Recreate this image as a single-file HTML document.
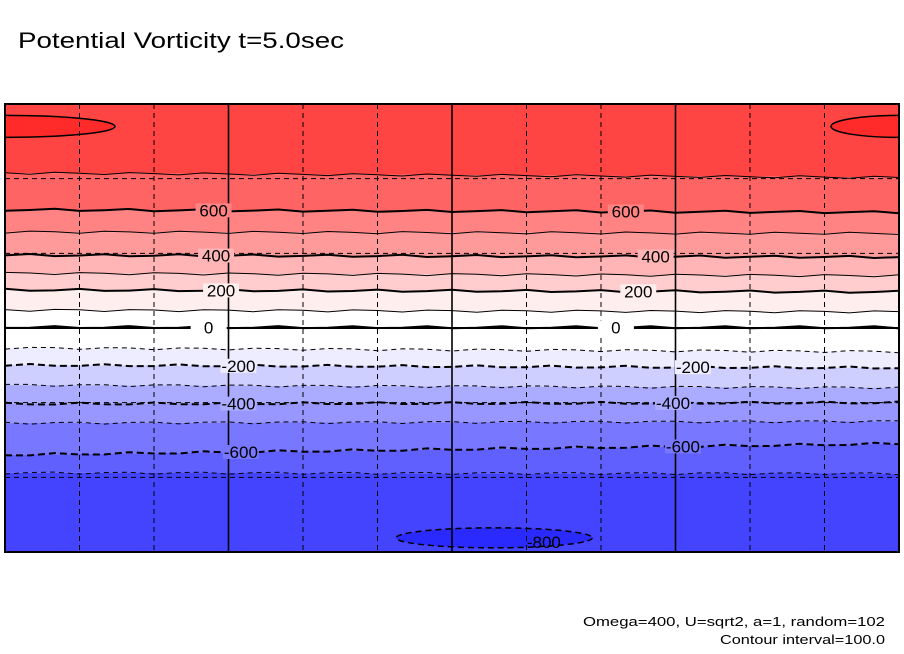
<!DOCTYPE html>
<html><head><meta charset="utf-8"><style>
html,body{margin:0;padding:0;background:#fff;width:904px;height:654px;overflow:hidden}
svg{display:block}
text{font-family:"Liberation Sans",sans-serif}
</style></head><body>
<svg id="chart" width="904" height="654">
<defs><clipPath id="clip"><rect x="5" y="104" width="894" height="448"/></clipPath></defs>
<text x="18" y="48" font-size="22" textLength="326" lengthAdjust="spacingAndGlyphs" fill="#000">Potential Vorticity t=5.0sec</text>
<g id="plot" clip-path="url(#clip)"></g>
<text x="583" y="626" font-size="13" textLength="302" lengthAdjust="spacingAndGlyphs" fill="#000">Omega=400, U=sqrt2, a=1, random=102</text>
<text x="720" y="644" font-size="13" textLength="165" lengthAdjust="spacingAndGlyphs" fill="#000">Contour interval=100.0</text>
</svg>
<script>
// contour levels and their latitudes (left edge, right edge)
const levels = [700, 600, 500, 400, 300, 200, 100, 0, -100, -200, -300, -400, -500, -600, -700];
const latLeft = [62.3, 47.5, 38.6, 29.3, 22.0, 15.3, 7.2, 0.3, -8.0, -14.9, -22.9, -30.5, -38.2, -51.0, -58.2];
const latRight = [60.5, 46.5, 38.0, 28.5, 21.0, 14.5, 6.5, 0.2, -9.5, -16.0, -24.0, -30.0, -37.5, -46.5, -58.5];
const bandColors = ['#ff4444','#ff6464','#ff8383','#ff9a9a','#ffb5b5','#ffcdcd','#ffeeee','#ffffff','#ffffff','#ededff','#cfcfff','#ababff','#9797ff','#7777ff','#6060ff','#4444ff'];
const lonTicks = [-180,-150,-120,-90,-60,-30,0,30,60,90,120,150,180];
const latTicks = [-60,-30,0,30,60];
const labelLevels = [600,400,200,0,-200,-400,-600];
const labelLonLeft = [-96,-95,-93,-98,-86,-86,-85];
const labelLonRight = [70,82,75,66,97,89,93];

const X0=5,X1=899,Y0=104,Y1=552;
const ns='http://www.w3.org/2000/svg';
const plot=document.getElementById('plot');
const svg=document.getElementById('chart');
function xs(lon){return X0+(lon+180)/360*(X1-X0);}
function ys(lat){return Y0+(90-lat)/180*(Y1-Y0);}
function latAt(i,lon){const t=(lon+180)/360;return latLeft[i]*(1-t)+latRight[i]*t;}
function mk(tag,attrs,parent){const e=document.createElementNS(ns,tag);for(const k in attrs)e.setAttribute(k,attrs[k]);(parent||plot).appendChild(e);return e;}

for(let b=0;b<bandColors.length;b++){
  let pts=[];
  if(b===0){pts.push([X0,ys(90)],[X1,ys(90)]);} else {for(let lon=-180;lon<=180;lon+=10)pts.push([xs(lon),ys(latAt(b-1,lon))]);}
  let bot=[];
  if(b===bandColors.length-1){bot.push([X1,ys(-90)],[X0,ys(-90)]);} else {for(let lon=180;lon>=-180;lon-=10)bot.push([xs(lon),ys(latAt(b,lon))]);}
  const p=mk('polygon',{points:pts.concat(bot).map(q=>q.join(',')).join(' '),fill:bandColors[b]});
  
  
}
const e1=mk('ellipse',{cx:xs(-180),cy:ys(81),rx:110,ry:11,fill:'#ff2a2a',stroke:'#000','stroke-width':1.5});


const e2=mk('ellipse',{cx:xs(180),cy:ys(81),rx:68,ry:11,fill:'#ff2a2a',stroke:'#000','stroke-width':1.5});


const e3=mk('ellipse',{cx:xs(17),cy:ys(-84.3),rx:98,ry:10,fill:'#2a2aff',stroke:'#000','stroke-width':1.5,'stroke-dasharray':'6,4'});



for(let i=0;i<levels.length;i++){
  let d='';
  for(let lon=-180;lon<=180;lon+=10){const w=Math.sin(lon*0.21+i)*1.2;d+=(lon===-180?'M':'L')+xs(lon).toFixed(1)+','+(ys(latAt(i,lon))+w).toFixed(1);}
  const major=levels[i]%200===0;
  const a={d:d,fill:'none',stroke:'#000','stroke-width':major?2:1};
  if(levels[i]<0)a['stroke-dasharray']=major?'7,4':'5,4';
  const c=mk('path',a);
  
  
}
lonTicks.forEach(lon=>{
  const solid=lon%90===0;
  const g=mk('line',{x1:xs(lon),x2:xs(lon),y1:Y0,y2:Y1,stroke:'#000','stroke-width':solid?1.6:1,'stroke-dasharray':solid?'none':'5,4'});
  
  
});
latTicks.forEach(lat=>{
  const solid=lat===0;
  const g=mk('line',{x1:X0,x2:X1,y1:ys(lat),y2:ys(lat),stroke:'#000','stroke-width':solid?2:1,'stroke-dasharray':solid?'none':'5,4'});
  
  
});
function lab(level,lon,idx,side){
  const i=levels.indexOf(level);
  const x=xs(lon),y=ys(latAt(i,lon));
  const bg=mk('rect',{x:x-18,y:y-7,width:36,height:14,fill:bandColors[i+(level>0?1:0)]});
  
  
  const t=mk('text',{x:x,y:y+6,'font-size':17,'text-anchor':'middle',fill:'#000'});
  t.textContent=String(level);
  
  
}
labelLevels.forEach((l,k)=>{lab(l,labelLonLeft[k],k,'left');lab(l,labelLonRight[k],k,'right');});
const t8=mk('text',{x:xs(37),y:ys(-86)+6,'font-size':17,'text-anchor':'middle',fill:'#000'});
t8.textContent='-800';


const fr=mk('rect',{x:X0,y:Y0,width:X1-X0,height:Y1-Y0,fill:'none',stroke:'#000','stroke-width':2},svg);


</script>
</body></html>
